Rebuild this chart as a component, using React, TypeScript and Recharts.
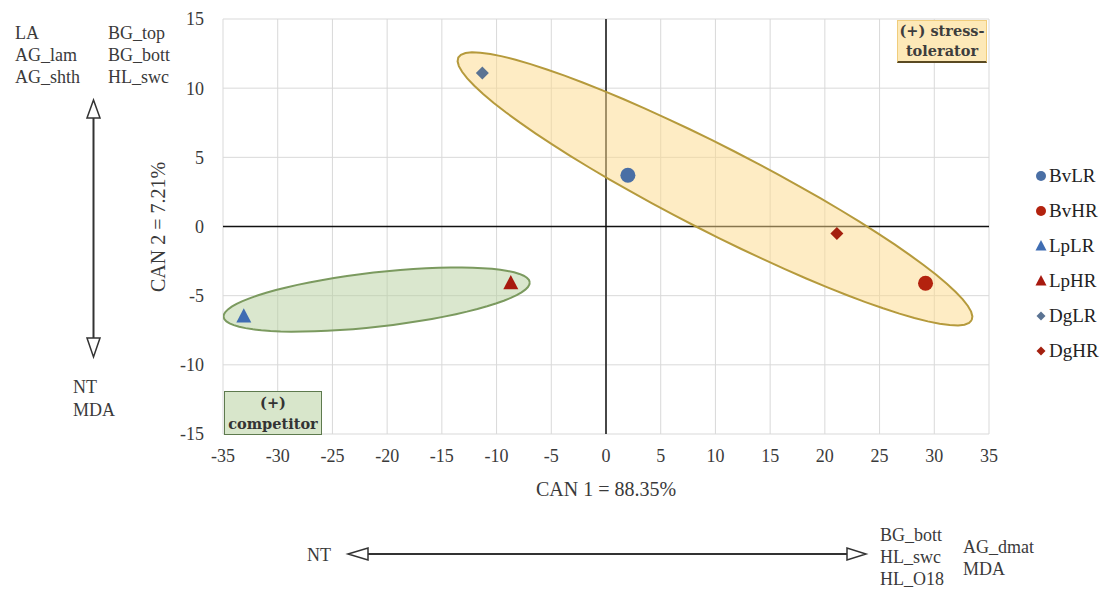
import { ScatterChart, Scatter, XAxis, YAxis, CartesianGrid, ReferenceLine, Legend, Label } from 'recharts';

const groups = ['BvLR', 'BvHR', 'LpLR', 'LpHR', 'DgLR', 'DgHR'];
const can1 = [2.0, 29.2, -33.1, -8.7, -11.3, 21.1];
const can2 = [3.7, -4.1, -6.5, -4.1, 11.1, -0.5];
const shapes = ['circle', 'circle', 'triangle', 'triangle', 'diamond', 'diamond'];
const colors = ['#4a6fa5', '#b3220e', '#3f6db3', '#a8190f', '#5a7393', '#a4200f'];

const xTicks = [-35, -30, -25, -20, -15, -10, -5, 0, 5, 10, 15, 20, 25, 30, 35];
const yTicks = [-15, -10, -5, 0, 5, 10, 15];

// group ellipses: centre + two conjugate half axes, in data units
const stressCentre = [9.96, 2.72];
const stressMajor = [23.46, -9.49];
const stressMinor = [-1.74, -2.72];
const compCentre = [-20.96, -5.28];
const compMajor = [13.99, 1.26];
const compMinor = [0.28, -1.95];

const outline = (c: number[], a: number[], b: number[]) =>
  Array.from({ length: 73 }, (_, i) => {
    const t = (i * 5 * Math.PI) / 180;
    return {
      x: c[0] + a[0] * Math.cos(t) + b[0] * Math.sin(t),
      y: c[1] + a[1] * Math.cos(t) + b[1] * Math.sin(t),
    };
  });

const FONT = '"Liberation Serif", "Times New Roman", serif';
const TEXT = '#3a3a3a';

const Marker = ({ shape, cx, cy, color, s }: any) => {
  if (shape === 'circle') return <circle cx={cx} cy={cy} r={s / 2} fill={color} />;
  if (shape === 'triangle') {
    return (
      <polygon
        points={`${cx},${cy - s * 0.55} ${cx - s / 2},${cy + s * 0.4} ${cx + s / 2},${cy + s * 0.4}`}
        fill={color}
      />
    );
  }
  return (
    <polygon
      points={`${cx},${cy - s / 2} ${cx + s / 2},${cy} ${cx},${cy + s / 2} ${cx - s / 2},${cy}`}
      fill={color}
    />
  );
};

const markerSize = { circle: 15, triangle: 15, diamond: 13 } as any;
const legendSize = { circle: 10, triangle: 11, diamond: 9 } as any;

// keep the series order (recharts sorts legend items by name otherwise)
const renderLegend = (props: any) => {
  const items = (props.payload || [])
    .filter((e: any) => groups.includes(e.value))
    .sort((a: any, b: any) => groups.indexOf(a.value) - groups.indexOf(b.value));
  return (
    <div style={{ fontFamily: FONT, fontSize: 19, color: '#222' }}>
      {items.map((entry: any) => {
        const i = groups.indexOf(entry.value);
        return (
          <div key={entry.value} style={{ display: 'flex', alignItems: 'center', height: 35 }}>
            <svg width={14} height={14} style={{ marginRight: 1 }}>
              <Marker shape={shapes[i]} cx={7} cy={7} color={colors[i]} s={legendSize[shapes[i]]} />
            </svg>
            <span>{entry.value}</span>
          </div>
        );
      })}
    </div>
  );
};

const Txt = ({ x, y, children }: any) => (
  <text x={x} y={y} fontFamily={FONT} fontSize={18} fill={TEXT} dominantBaseline="central">
    {children}
  </text>
);

export default function App() {
  return (
    <div style={{ position: 'absolute', left: 0, top: 0, width: 1105, height: 590, background: '#fff' }}>
      <ScatterChart width={1105} height={590} margin={{ top: 19, right: 116, bottom: 126, left: 0 }}>
        <CartesianGrid stroke="#d9d9d9" />
        <XAxis
          type="number"
          dataKey="x"
          domain={[-35, 35]}
          ticks={xTicks}
          allowDataOverflow
          axisLine={false}
          tickLine={false}
          tickSize={0}
          tickMargin={15}
          height={30}
          tick={{ fontFamily: FONT, fontSize: 18, fill: TEXT }}
        >
          <Label value="CAN 1 = 88.35%" position="bottom" offset={18} style={{ fontFamily: FONT, fontSize: 20, fill: TEXT }} />
        </XAxis>
        <YAxis
          type="number"
          dataKey="y"
          domain={[-15, 15]}
          ticks={yTicks}
          allowDataOverflow
          axisLine={false}
          tickLine={false}
          tickSize={0}
          tickMargin={19}
          width={223}
          tick={{ fontFamily: FONT, fontSize: 18, fill: TEXT }}
        >
          <Label
            content={() => (
              <text
                x={158}
                y={227}
                transform="rotate(-90 158 227)"
                textAnchor="middle"
                dominantBaseline="central"
                fontFamily={FONT}
                fontSize={20}
                fill={TEXT}
              >
                CAN 2 = 7.21%
              </text>
            )}
          />
        </YAxis>
        <Scatter
          data={outline(stressCentre, stressMajor, stressMinor)}
          line={{ stroke: '#b59a3c', strokeWidth: 2, fill: '#fdd98a', fillOpacity: 0.5 }}
          lineType="joint"
          shape={() => <g />}
          legendType="none"
          isAnimationActive={false}
        />
        <Scatter
          data={outline(compCentre, compMajor, compMinor)}
          line={{ stroke: '#7b9a5f', strokeWidth: 2, fill: '#b5d09d', fillOpacity: 0.5 }}
          lineType="joint"
          shape={() => <g />}
          legendType="none"
          isAnimationActive={false}
        />
        <ReferenceLine x={0} stroke="#111" strokeWidth={1.5} />
        <ReferenceLine y={0} stroke="#111" strokeWidth={1.5} />
        {groups.map((g, i) => (
          <Scatter
            key={g}
            name={g}
            data={[{ x: can1[i], y: can2[i] }]}
            fill={colors[i]}
            isAnimationActive={false}
            shape={(p: any) => (
              <Marker shape={shapes[i]} cx={p.cx} cy={p.cy} color={colors[i]} s={markerSize[shapes[i]]} />
            )}
          />
        ))}
        <Legend
          layout="vertical"
          align="center"
          verticalAlign="middle"
          wrapperStyle={{ left: 1034, top: 158, width: 71 }}
          content={renderLegend}
        />
      </ScatterChart>

      <svg width={1105} height={590} style={{ position: 'absolute', left: 0, top: 0, pointerEvents: 'none' }}>
        <Txt x={15} y={33}>LA</Txt>
        <Txt x={15} y={55}>AG_lam</Txt>
        <Txt x={15} y={77}>AG_shth</Txt>
        <Txt x={108} y={33}>BG_top</Txt>
        <Txt x={108} y={55}>BG_bott</Txt>
        <Txt x={108} y={77}>HL_swc</Txt>
        <line x1={93.5} y1={118} x2={93.5} y2={338} stroke="#333" strokeWidth={2} />
        <polygon points="93.5,100 87,118 100,118" fill="#fff" stroke="#333" strokeWidth={1.5} />
        <polygon points="87,338 100,338 93.5,357" fill="#fff" stroke="#333" strokeWidth={1.5} />
        <Txt x={73} y={387}>NT</Txt>
        <Txt x={73} y={410}>MDA</Txt>

        <Txt x={307} y={555}>NT</Txt>
        <line x1={368} y1={554} x2={847} y2={554} stroke="#333" strokeWidth={2} />
        <polygon points="348,554 368,548 368,560" fill="#fff" stroke="#333" strokeWidth={1.5} />
        <polygon points="847,548 847,560 866,554" fill="#fff" stroke="#333" strokeWidth={1.5} />
        <Txt x={880} y={535}>BG_bott</Txt>
        <Txt x={880} y={557}>HL_swc</Txt>
        <Txt x={880} y={579}>HL_O18</Txt>
        <Txt x={963} y={547}>AG_dmat</Txt>
        <Txt x={963} y={569}>MDA</Txt>
      </svg>

      <div
        style={{
          position: 'absolute',
          left: 897,
          top: 20,
          width: 88,
          height: 40,
          background: '#fde9b8',
          border: '1px solid #f0cd7c',
          borderBottom: '2px solid #5a4a22',
          fontFamily: '"DejaVu Serif", serif',
          fontWeight: 'bold',
          fontSize: 14.5,
          lineHeight: '20px',
          color: '#3d3d3d',
          textAlign: 'center',
          whiteSpace: 'nowrap',
        }}
      >
        (+) stress-
        <br />
        tolerator
      </div>
      <div
        style={{
          position: 'absolute',
          left: 224,
          top: 391,
          width: 96,
          height: 42,
          background: '#d8e6cb',
          border: '1px solid #5e7a4e',
          fontFamily: '"DejaVu Serif", serif',
          fontWeight: 'bold',
          fontSize: 14.5,
          lineHeight: '21px',
          color: '#333',
          textAlign: 'center',
          whiteSpace: 'nowrap',
        }}
      >
        (+)
        <br />
        competitor
      </div>
    </div>
  );
}
